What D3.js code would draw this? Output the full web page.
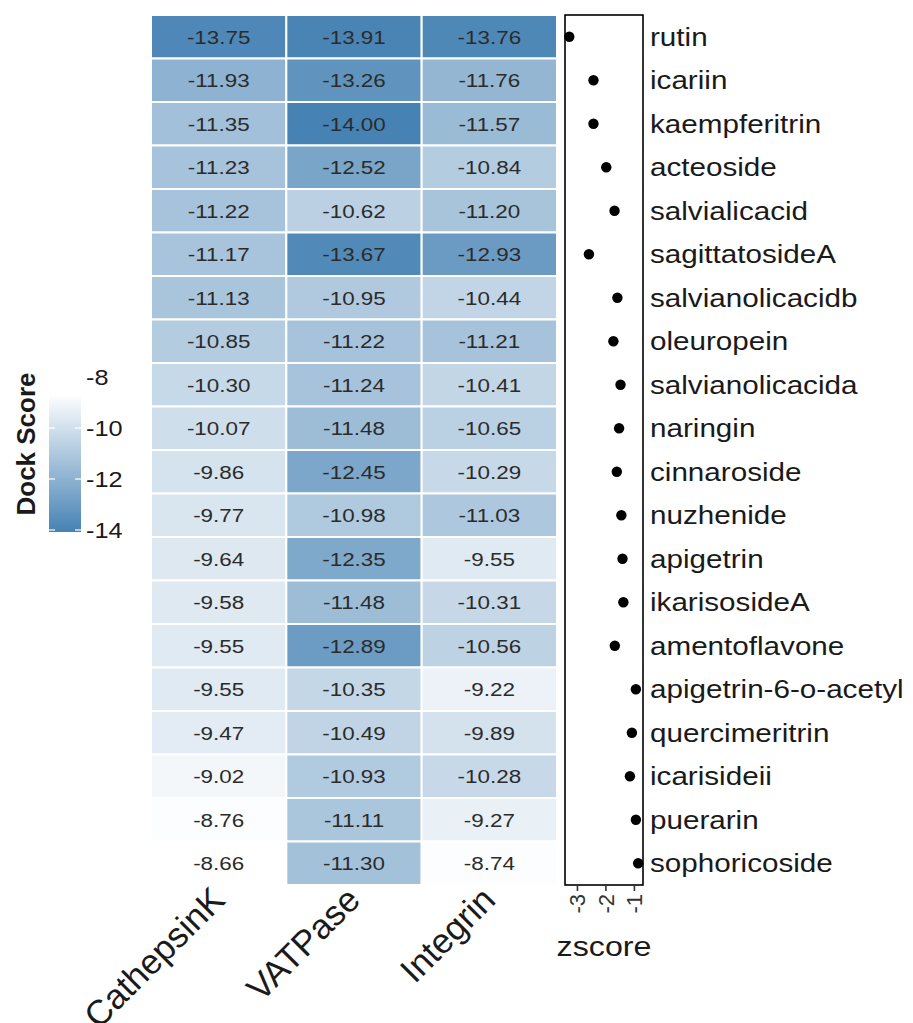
<!DOCTYPE html>
<html lang="en">
<head>
<meta charset="utf-8">
<title>Dock score heatmap</title>
<script src="https://cdn.jsdelivr.net/npm/d3@7/dist/d3.min.js"></script>
<style>
  body { margin: 0; background: #fff; }
  text { font-family: "Liberation Sans", Arial, sans-serif; }
</style>
</head>
<body>
<script>
// compounds top to bottom
var compounds = ["rutin", "icariin", "kaempferitrin", "acteoside", "salvialicacid",
  "sagittatosideA", "salvianolicacidb", "oleuropein", "salvianolicacida", "naringin",
  "cinnaroside", "nuzhenide", "apigetrin", "ikarisosideA", "amentoflavone",
  "apigetrin-6-o-acetyl", "quercimeritrin", "icarisideii", "puerarin", "sophoricoside"];
var targets = ["CathepsinK", "VATPase", "Integrin"];

var cathepsinK = [-13.75, -11.93, -11.35, -11.23, -11.22, -11.17, -11.13, -10.85, -10.30, -10.07,
  -9.86, -9.77, -9.64, -9.58, -9.55, -9.55, -9.47, -9.02, -8.76, -8.66];
var vatpase = [-13.91, -13.26, -14.00, -12.52, -10.62, -13.67, -10.95, -11.22, -11.24, -11.48,
  -12.45, -10.98, -12.35, -11.48, -12.89, -10.35, -10.49, -10.93, -11.11, -11.30];
var integrin = [-13.76, -11.76, -11.57, -10.84, -11.20, -12.93, -10.44, -11.21, -10.41, -10.65,
  -10.29, -11.03, -9.55, -10.31, -10.56, -9.22, -9.89, -10.28, -9.27, -8.74];
var zscore = [-3.27, -2.42, -2.42, -1.97, -1.68, -2.58, -1.58, -1.72, -1.47, -1.52,
  -1.60, -1.44, -1.40, -1.37, -1.67, -0.93, -1.07, -1.14, -0.93, -0.85];

var legendTicks = [-8, -10, -12, -14];
var zTicks = [-3, -2, -1];

var W = 913, H = 1023;

var svg = d3.select("body").append("svg")
  .attr("width", W).attr("height", H);

var cells = [];
var cols = [cathepsinK, vatpase, integrin];
compounds.forEach(function(c, i) {
  targets.forEach(function(t, j) {
    cells.push({compound: c, target: t, value: cols[j][i]});
  });
});

var y = d3.scaleBand().domain(compounds).range([15, 885]);
var x = d3.scaleBand().domain(targets).range([151, 557]);

var allVals = cathepsinK.concat(vatpase, integrin);
var vmin = d3.min(allVals), vmax = d3.max(allVals);
var color = d3.scaleLinear().domain([vmin, vmax]).range(["#4682b4", "#ffffff"]);

// text in the picture is drawn a bit wide, so stretch it
function wideText(sel, px, py, fs, str, sx) {
  return sel.append("text")
    .attr("transform", "translate(" + px + "," + py + ") scale(" + (sx || 1.2) + ",1)")
    .attr("font-size", fs)
    .text(str);
}

// heatmap
svg.append("g").selectAll("rect")
  .data(cells).enter().append("rect")
  .attr("x", function(d) { return x(d.target); })
  .attr("y", function(d) { return y(d.compound); })
  .attr("width", x.bandwidth())
  .attr("height", y.bandwidth())
  .attr("fill", function(d) { return color(d.value); })
  .attr("stroke", "#fff")
  .attr("stroke-width", 2);

var lab = svg.append("g");
cells.forEach(function(d) {
  wideText(lab, x(d.target) + x.bandwidth() / 2, y(d.compound) + y.bandwidth() / 2 + 7, 19, d.value.toFixed(2), 1.18)
    .attr("text-anchor", "middle")
    .attr("fill", "#2b2b2b");
});

// x axis labels, rotated
targets.forEach(function(t) {
  svg.append("text")
    .attr("transform", "translate(" + (x(t) + x.bandwidth() / 2 + 8) + ",902) rotate(-45)")
    .attr("text-anchor", "end")
    .attr("font-size", 35)
    .attr("fill", "#1a1a1a")
    .text(t);
});

// zscore panel
var zx = d3.scaleLinear().domain([-3.42, -0.68]).range([565, 643]);
var panel = svg.append("g");
panel.append("rect")
  .attr("x", 565).attr("y", 15)
  .attr("width", 78).attr("height", 870)
  .attr("fill", "none").attr("stroke", "#000").attr("stroke-width", 1.6);

panel.selectAll("circle")
  .data(zscore).enter().append("circle")
  .attr("cx", function(d) { return zx(d); })
  .attr("cy", function(d, i) { return y(compounds[i]) + y.bandwidth() / 2; })
  .attr("r", 5.2)
  .attr("fill", "#000");

var zAxis = d3.axisBottom(zx).tickValues(zTicks).tickSize(6).tickFormat(d3.format("d"));
var za = svg.append("g").attr("transform", "translate(0,885)").call(zAxis);
za.select(".domain").remove();
za.selectAll(".tick line").attr("stroke", "#333").attr("stroke-width", 1.6);
za.selectAll(".tick text")
  .attr("font-size", 22)
  .attr("fill", "#333")
  .attr("text-anchor", "end")
  .attr("x", -9).attr("y", 0).attr("dy", "0.35em")
  .attr("transform", "rotate(-90)")
  .text(function(d) { return String(d); });

wideText(svg, 604, 956, 28, "zscore", 1.15).attr("text-anchor", "middle").attr("fill", "#1a1a1a");

// compound names
compounds.forEach(function(c) {
  wideText(svg, 650, y(c) + y.bandwidth() / 2 + 9, 26, c, 1.14).attr("fill", "#1a1a1a");
});

// legend
var ly = d3.scaleLinear().domain([-8, -14]).range([377, 530]);
var defs = svg.append("defs");
var grad = defs.append("linearGradient").attr("id", "lg")
  .attr("x1", 0).attr("y1", 1).attr("x2", 0).attr("y2", 0);
grad.append("stop").attr("offset", "0%").attr("stop-color", color(vmin));
grad.append("stop").attr("offset", "100%").attr("stop-color", color(vmax));

var barX = 49, barW = 32;
svg.append("rect")
  .attr("x", barX).attr("y", ly(vmax))
  .attr("width", barW).attr("height", ly(vmin) - ly(vmax) + 2)
  .attr("fill", "url(#lg)");

legendTicks.forEach(function(t) {
  if (t < vmax) {
    svg.append("line").attr("x1", barX).attr("x2", barX + 6)
      .attr("y1", ly(t)).attr("y2", ly(t)).attr("stroke", "#fff").attr("stroke-width", 1.2);
    svg.append("line").attr("x1", barX + barW - 6).attr("x2", barX + barW)
      .attr("y1", ly(t)).attr("y2", ly(t)).attr("stroke", "#fff").attr("stroke-width", 1.2);
  }
  wideText(svg, 86, ly(t) + 8, 22, String(t), 1.15).attr("fill", "#1a1a1a");
});

svg.append("text")
  .attr("transform", "translate(35,444) rotate(-90)")
  .attr("text-anchor", "middle")
  .attr("font-size", 26)
  .attr("font-weight", "bold")
  .attr("fill", "#1a1a1a")
  .text("Dock Score");
</script>
</body>
</html>
